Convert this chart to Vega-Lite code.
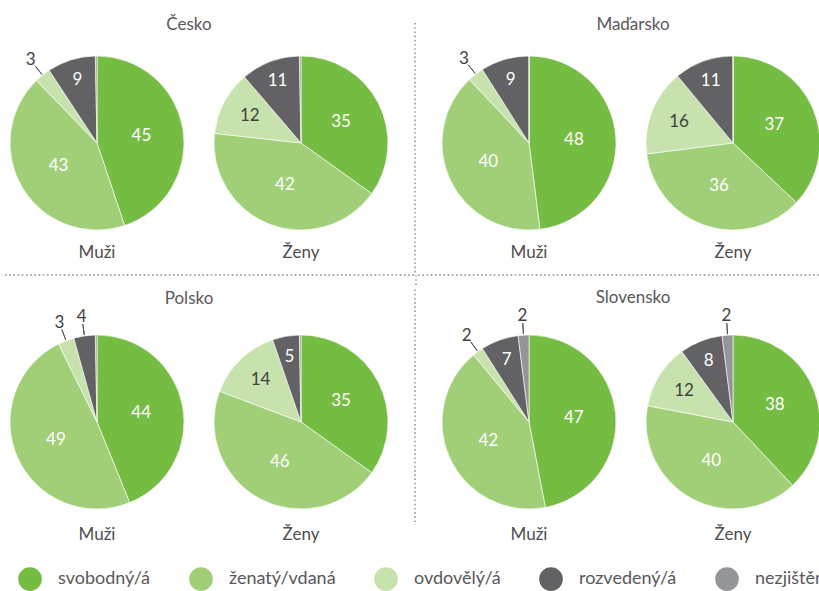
{
  "$schema": "https://vega.github.io/schema/vega-lite/v6.json",
  "background": "white",
  "padding": {"left": 1, "top": 16, "right": 0, "bottom": 0},
  "data": {"values": [
    {"country": "Česko", "sex": "Muži", "status": "svobodný/á", "value": 45},
    {"country": "Česko", "sex": "Muži", "status": "ženatý/vdaná", "value": 43},
    {"country": "Česko", "sex": "Muži", "status": "ovdovělý/á", "value": 3},
    {"country": "Česko", "sex": "Muži", "status": "rozvedený/á", "value": 9},
    {"country": "Česko", "sex": "Muži", "status": "nezjištěno", "value": 0.3},
    {"country": "Česko", "sex": "Ženy", "status": "svobodný/á", "value": 35},
    {"country": "Česko", "sex": "Ženy", "status": "ženatý/vdaná", "value": 42},
    {"country": "Česko", "sex": "Ženy", "status": "ovdovělý/á", "value": 12},
    {"country": "Česko", "sex": "Ženy", "status": "rozvedený/á", "value": 11},
    {"country": "Česko", "sex": "Ženy", "status": "nezjištěno", "value": 0.3},
    {"country": "Maďarsko", "sex": "Muži", "status": "svobodný/á", "value": 48},
    {"country": "Maďarsko", "sex": "Muži", "status": "ženatý/vdaná", "value": 40},
    {"country": "Maďarsko", "sex": "Muži", "status": "ovdovělý/á", "value": 3},
    {"country": "Maďarsko", "sex": "Muži", "status": "rozvedený/á", "value": 9},
    {"country": "Maďarsko", "sex": "Muži", "status": "nezjištěno", "value": 0},
    {"country": "Maďarsko", "sex": "Ženy", "status": "svobodný/á", "value": 37},
    {"country": "Maďarsko", "sex": "Ženy", "status": "ženatý/vdaná", "value": 36},
    {"country": "Maďarsko", "sex": "Ženy", "status": "ovdovělý/á", "value": 16},
    {"country": "Maďarsko", "sex": "Ženy", "status": "rozvedený/á", "value": 11},
    {"country": "Maďarsko", "sex": "Ženy", "status": "nezjištěno", "value": 0},
    {"country": "Polsko", "sex": "Muži", "status": "svobodný/á", "value": 44},
    {"country": "Polsko", "sex": "Muži", "status": "ženatý/vdaná", "value": 49},
    {"country": "Polsko", "sex": "Muži", "status": "ovdovělý/á", "value": 3},
    {"country": "Polsko", "sex": "Muži", "status": "rozvedený/á", "value": 4},
    {"country": "Polsko", "sex": "Muži", "status": "nezjištěno", "value": 0.3},
    {"country": "Polsko", "sex": "Ženy", "status": "svobodný/á", "value": 35},
    {"country": "Polsko", "sex": "Ženy", "status": "ženatý/vdaná", "value": 46},
    {"country": "Polsko", "sex": "Ženy", "status": "ovdovělý/á", "value": 14},
    {"country": "Polsko", "sex": "Ženy", "status": "rozvedený/á", "value": 5},
    {"country": "Polsko", "sex": "Ženy", "status": "nezjištěno", "value": 0.3},
    {"country": "Slovensko", "sex": "Muži", "status": "svobodný/á", "value": 47},
    {"country": "Slovensko", "sex": "Muži", "status": "ženatý/vdaná", "value": 42},
    {"country": "Slovensko", "sex": "Muži", "status": "ovdovělý/á", "value": 2},
    {"country": "Slovensko", "sex": "Muži", "status": "rozvedený/á", "value": 7},
    {"country": "Slovensko", "sex": "Muži", "status": "nezjištěno", "value": 2},
    {"country": "Slovensko", "sex": "Ženy", "status": "svobodný/á", "value": 38},
    {"country": "Slovensko", "sex": "Ženy", "status": "ženatý/vdaná", "value": 40},
    {"country": "Slovensko", "sex": "Ženy", "status": "ovdovělý/á", "value": 12},
    {"country": "Slovensko", "sex": "Ženy", "status": "rozvedený/á", "value": 8},
    {"country": "Slovensko", "sex": "Ženy", "status": "nezjištěno", "value": 2}
  ]},
  "transform": [
    {"window": [{"op": "row_number", "as": "rank"}], "groupby": ["country", "sex"]}
  ],
  "spacing": 0,
  "vconcat": [
    {
      "spacing": 18,
      "hconcat": [
        {
          "transform": [{"filter": "datum.country === 'Česko'"}],
          "title": {"text": "Česko", "offset": 9, "dx": -10},
          "spacing": 14,
          "facet": {"column": {"field": "sex", "type": "nominal", "sort": ["Muži", "Ženy"], "title": null}},
          "spec": {
            "width": 190, "height": 200,
            "layer": [
              {"mark": {"type": "arc", "radius": 87, "stroke": "white", "strokeWidth": 0.6},
               "encoding": {
                 "theta": {"field": "value", "type": "quantitative", "stack": "normalize"},
                 "color": {"field": "status", "type": "nominal", "title": null,
                   "scale": {"domain": ["svobodný/á", "ženatý/vdaná", "ovdovělý/á", "rozvedený/á", "nezjištěno"], "range": ["#75BC43", "#A0CF78", "#C8E2AE", "#626265", "#939598"]}},
                 "order": {"field": "rank", "type": "quantitative"}}},
              {"mark": {"type": "arc", "radius": {"expr": "datum.value >= 1 && datum.value < 5 ? 99 : 1"}, "radius2": {"expr": "datum.value >= 1 && datum.value < 5 ? 88 : 0"}, "padAngle": 3, "filled": false, "stroke": "#58585A", "strokeWidth": 1},
               "encoding": {
                 "theta": {"field": "value", "type": "quantitative", "stack": "normalize"},
                 "detail": {"field": "status", "type": "nominal"},
                 "order": {"field": "rank", "type": "quantitative"},
                 "strokeOpacity": {"condition": {"test": "datum.value >= 1 && datum.value < 5", "value": 1}, "value": 0}}},
              {"mark": {"type": "text", "fontSize": 17, "radius": {"expr": "datum.value >= 30 ? 45 : datum.value >= 12 ? 58 : 66"}},
               "encoding": {
                 "theta": {"field": "value", "type": "quantitative", "stack": "normalize"},
                 "detail": {"field": "status", "type": "nominal"},
                 "order": {"field": "rank", "type": "quantitative"},
                 "text": {"condition": {"test": "datum.value < 5", "value": ""}, "field": "value", "type": "quantitative"},
                 "color": {"condition": {"test": "datum.status === 'ovdovělý/á'", "value": "#404041"}, "value": "white"}}},
              {"mark": {"type": "text", "fontSize": 17, "color": "#404041", "radius": {"expr": "datum.value >= 1 && datum.value < 5 ? 106 : 0"}},
               "encoding": {
                 "theta": {"field": "value", "type": "quantitative", "stack": "normalize"},
                 "detail": {"field": "status", "type": "nominal"},
                 "order": {"field": "rank", "type": "quantitative"},
                 "text": {"condition": {"test": "datum.value >= 5 || datum.value < 1", "value": ""}, "field": "value", "type": "quantitative"}}}
            ]
          }
        },
        {
          "data": {"values": [{}]},
          "width": 1, "height": 230,
          "mark": {"type": "rule", "color": "#8C8C8C", "strokeWidth": 1.4, "strokeDash": [1.6, 2.6]},
          "encoding": {
            "x": {"datum": 0, "type": "quantitative", "scale": {"domain": [0, 1]}, "axis": null},
            "y": {"datum": 1.087, "type": "quantitative", "scale": {"domain": [0, 1]}, "axis": null},
            "y2": {"datum": 0}
          }
        },
        {
          "transform": [{"filter": "datum.country === 'Maďarsko'"}],
          "title": {"text": "Maďarsko", "offset": 9, "dx": 2},
          "spacing": 14,
          "facet": {"column": {"field": "sex", "type": "nominal", "sort": ["Muži", "Ženy"], "title": null}},
          "spec": {
            "width": 190, "height": 200,
            "layer": [
              {"mark": {"type": "arc", "radius": 87, "stroke": "white", "strokeWidth": 0.6},
               "encoding": {
                 "theta": {"field": "value", "type": "quantitative", "stack": "normalize"},
                 "color": {"field": "status", "type": "nominal", "title": null,
                   "scale": {"domain": ["svobodný/á", "ženatý/vdaná", "ovdovělý/á", "rozvedený/á", "nezjištěno"], "range": ["#75BC43", "#A0CF78", "#C8E2AE", "#626265", "#939598"]}},
                 "order": {"field": "rank", "type": "quantitative"}}},
              {"mark": {"type": "arc", "radius": {"expr": "datum.value >= 1 && datum.value < 5 ? 99 : 1"}, "radius2": {"expr": "datum.value >= 1 && datum.value < 5 ? 88 : 0"}, "padAngle": 3, "filled": false, "stroke": "#58585A", "strokeWidth": 1},
               "encoding": {
                 "theta": {"field": "value", "type": "quantitative", "stack": "normalize"},
                 "detail": {"field": "status", "type": "nominal"},
                 "order": {"field": "rank", "type": "quantitative"},
                 "strokeOpacity": {"condition": {"test": "datum.value >= 1 && datum.value < 5", "value": 1}, "value": 0}}},
              {"mark": {"type": "text", "fontSize": 17, "radius": {"expr": "datum.value >= 30 ? 45 : datum.value >= 12 ? 58 : 66"}},
               "encoding": {
                 "theta": {"field": "value", "type": "quantitative", "stack": "normalize"},
                 "detail": {"field": "status", "type": "nominal"},
                 "order": {"field": "rank", "type": "quantitative"},
                 "text": {"condition": {"test": "datum.value < 5", "value": ""}, "field": "value", "type": "quantitative"},
                 "color": {"condition": {"test": "datum.status === 'ovdovělý/á'", "value": "#404041"}, "value": "white"}}},
              {"mark": {"type": "text", "fontSize": 17, "color": "#404041", "radius": {"expr": "datum.value >= 1 && datum.value < 5 ? 106 : 0"}},
               "encoding": {
                 "theta": {"field": "value", "type": "quantitative", "stack": "normalize"},
                 "detail": {"field": "status", "type": "nominal"},
                 "order": {"field": "rank", "type": "quantitative"},
                 "text": {"condition": {"test": "datum.value >= 5 || datum.value < 1", "value": ""}, "field": "value", "type": "quantitative"}}}
            ]
          }
        }
      ]
    },
    {
      "spacing": 0,
      "hconcat": [
        {
          "data": {"values": [{}]},
          "width": 412, "height": 12,
          "mark": {"type": "rule", "color": "#8C8C8C", "strokeWidth": 1.4, "strokeDash": [1.6, 2.6]},
          "encoding": {"y": {"datum": 1, "type": "quantitative", "scale": {"domain": [0, 1]}, "axis": null}}
        },
        {
          "data": {"values": [{}]},
          "width": 1, "height": 12,
          "mark": {"type": "rule", "color": "#8C8C8C", "strokeWidth": 1.4, "strokeDash": [1.6, 2.6]},
          "encoding": {"x": {"datum": 0, "type": "quantitative", "scale": {"domain": [0, 1]}, "axis": null}}
        },
        {
          "data": {"values": [{}]},
          "width": 405, "height": 12,
          "mark": {"type": "rule", "color": "#8C8C8C", "strokeWidth": 1.4, "strokeDash": [1.6, 2.6]},
          "encoding": {"y": {"datum": 1, "type": "quantitative", "scale": {"domain": [0, 1]}, "axis": null}}
        }
      ]
    },
    {
      "spacing": 18,
      "hconcat": [
        {
          "transform": [{"filter": "datum.country === 'Polsko'"}],
          "title": {"text": "Polsko", "offset": 0, "dx": -10},
          "spacing": 14,
          "facet": {"column": {"field": "sex", "type": "nominal", "sort": ["Muži", "Ženy"], "title": null, "header": {"labelPadding": 5}}},
          "spec": {
            "width": 190, "height": 200,
            "layer": [
              {"mark": {"type": "arc", "radius": 87, "stroke": "white", "strokeWidth": 0.6},
               "encoding": {
                 "theta": {"field": "value", "type": "quantitative", "stack": "normalize"},
                 "color": {"field": "status", "type": "nominal", "title": null,
                   "scale": {"domain": ["svobodný/á", "ženatý/vdaná", "ovdovělý/á", "rozvedený/á", "nezjištěno"], "range": ["#75BC43", "#A0CF78", "#C8E2AE", "#626265", "#939598"]}},
                 "order": {"field": "rank", "type": "quantitative"}}},
              {"mark": {"type": "arc", "radius": {"expr": "datum.value >= 1 && datum.value < 5 ? 99 : 1"}, "radius2": {"expr": "datum.value >= 1 && datum.value < 5 ? 88 : 0"}, "padAngle": 3, "filled": false, "stroke": "#58585A", "strokeWidth": 1},
               "encoding": {
                 "theta": {"field": "value", "type": "quantitative", "stack": "normalize"},
                 "detail": {"field": "status", "type": "nominal"},
                 "order": {"field": "rank", "type": "quantitative"},
                 "strokeOpacity": {"condition": {"test": "datum.value >= 1 && datum.value < 5", "value": 1}, "value": 0}}},
              {"mark": {"type": "text", "fontSize": 17, "radius": {"expr": "datum.value >= 30 ? 45 : datum.value >= 12 ? 58 : 66"}},
               "encoding": {
                 "theta": {"field": "value", "type": "quantitative", "stack": "normalize"},
                 "detail": {"field": "status", "type": "nominal"},
                 "order": {"field": "rank", "type": "quantitative"},
                 "text": {"condition": {"test": "datum.value < 5", "value": ""}, "field": "value", "type": "quantitative"},
                 "color": {"condition": {"test": "datum.status === 'ovdovělý/á'", "value": "#404041"}, "value": "white"}}},
              {"mark": {"type": "text", "fontSize": 17, "color": "#404041", "radius": {"expr": "datum.value >= 1 && datum.value < 5 ? 106 : 0"}},
               "encoding": {
                 "theta": {"field": "value", "type": "quantitative", "stack": "normalize"},
                 "detail": {"field": "status", "type": "nominal"},
                 "order": {"field": "rank", "type": "quantitative"},
                 "text": {"condition": {"test": "datum.value >= 5 || datum.value < 1", "value": ""}, "field": "value", "type": "quantitative"}}}
            ]
          }
        },
        {
          "data": {"values": [{}]},
          "width": 1, "height": 203,
          "mark": {"type": "rule", "color": "#8C8C8C", "strokeWidth": 1.4, "strokeDash": [1.6, 2.6]},
          "encoding": {
            "x": {"datum": 0, "type": "quantitative", "scale": {"domain": [0, 1]}, "axis": null},
            "y": {"datum": 1.16, "type": "quantitative", "scale": {"domain": [0, 1]}, "axis": null},
            "y2": {"datum": 0}
          }
        },
        {
          "transform": [{"filter": "datum.country === 'Slovensko'"}],
          "title": {"text": "Slovensko", "offset": 0, "dx": 2},
          "spacing": 14,
          "facet": {"column": {"field": "sex", "type": "nominal", "sort": ["Muži", "Ženy"], "title": null, "header": {"labelPadding": 5}}},
          "spec": {
            "width": 190, "height": 200,
            "layer": [
              {"mark": {"type": "arc", "radius": 87, "stroke": "white", "strokeWidth": 0.6},
               "encoding": {
                 "theta": {"field": "value", "type": "quantitative", "stack": "normalize"},
                 "color": {"field": "status", "type": "nominal", "title": null,
                   "scale": {"domain": ["svobodný/á", "ženatý/vdaná", "ovdovělý/á", "rozvedený/á", "nezjištěno"], "range": ["#75BC43", "#A0CF78", "#C8E2AE", "#626265", "#939598"]}},
                 "order": {"field": "rank", "type": "quantitative"}}},
              {"mark": {"type": "arc", "radius": {"expr": "datum.value >= 1 && datum.value < 5 ? 99 : 1"}, "radius2": {"expr": "datum.value >= 1 && datum.value < 5 ? 88 : 0"}, "padAngle": 3, "filled": false, "stroke": "#58585A", "strokeWidth": 1},
               "encoding": {
                 "theta": {"field": "value", "type": "quantitative", "stack": "normalize"},
                 "detail": {"field": "status", "type": "nominal"},
                 "order": {"field": "rank", "type": "quantitative"},
                 "strokeOpacity": {"condition": {"test": "datum.value >= 1 && datum.value < 5", "value": 1}, "value": 0}}},
              {"mark": {"type": "text", "fontSize": 17, "radius": {"expr": "datum.value >= 30 ? 45 : datum.value >= 12 ? 58 : 66"}},
               "encoding": {
                 "theta": {"field": "value", "type": "quantitative", "stack": "normalize"},
                 "detail": {"field": "status", "type": "nominal"},
                 "order": {"field": "rank", "type": "quantitative"},
                 "text": {"condition": {"test": "datum.value < 5", "value": ""}, "field": "value", "type": "quantitative"},
                 "color": {"condition": {"test": "datum.status === 'ovdovělý/á'", "value": "#404041"}, "value": "white"}}},
              {"mark": {"type": "text", "fontSize": 17, "color": "#404041", "radius": {"expr": "datum.value >= 1 && datum.value < 5 ? 106 : 0"}},
               "encoding": {
                 "theta": {"field": "value", "type": "quantitative", "stack": "normalize"},
                 "detail": {"field": "status", "type": "nominal"},
                 "order": {"field": "rank", "type": "quantitative"},
                 "text": {"condition": {"test": "datum.value >= 5 || datum.value < 1", "value": ""}, "field": "value", "type": "quantitative"}}}
            ]
          }
        }
      ]
    }
  ],
  "config": {
    "font": "Lato",
    "view": {"stroke": null},
    "title": {"fontSize": 17, "fontWeight": "normal", "color": "#58585A", "anchor": "middle"},
    "header": {"labelOrient": "bottom", "labelFontSize": 17, "labelColor": "#4D4D4F", "labelPadding": 2},
    "legend": {"orient": "bottom", "direction": "horizontal", "symbolType": "circle", "symbolSize": 560, "symbolStrokeWidth": 0, "labelFontSize": 18, "labelColor": "#58585A", "labelOffset": 16, "columnPadding": 38, "padding": 16, "offset": 8, "labelLimit": 220}
  }
}
